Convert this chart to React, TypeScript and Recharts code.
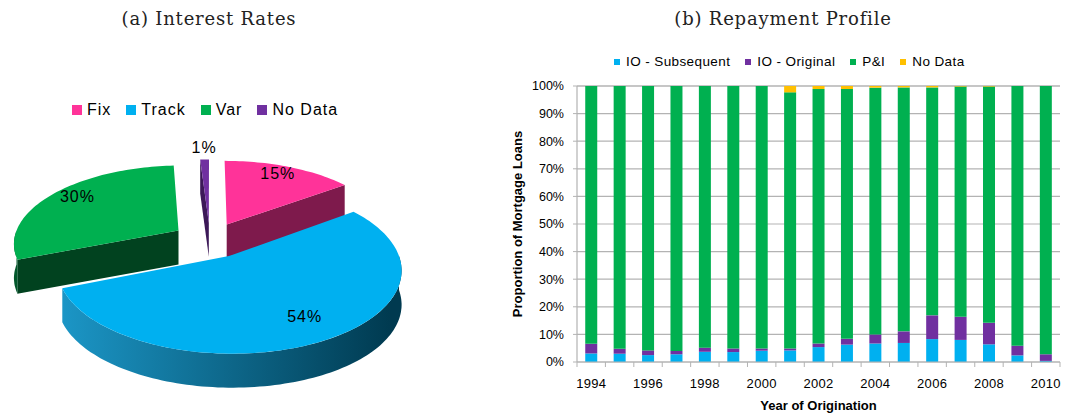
import React from 'react';
import { PieChart, Pie, Cell, Legend, BarChart, Bar, XAxis, YAxis, CartesianGrid } from 'recharts';

// (a) interest rate types, share of loans (%)
const rateNames = ['Fix', 'Track', 'Var', 'No Data'];
const rateShares = [15, 54, 30, 1];

// (b) repayment profile by year of origination (% of loans)
const years = ['1994', '1995', '1996', '1997', '1998', '1999', '2000', '2001', '2002',
  '2003', '2004', '2005', '2006', '2007', '2008', '2009', '2010'];
const ioSubsequent = [3.1, 3.0, 2.5, 2.8, 3.7, 3.6, 4.1, 4.2, 5.4, 6.3, 6.7, 6.9, 8.3, 8.0, 6.4, 2.4, 0.4];
const ioOriginal = [3.5, 1.8, 1.7, 1.2, 1.5, 1.3, 0.8, 0.7, 1.3, 2.1, 3.3, 4.2, 8.6, 8.4, 7.8, 3.5, 2.4];
const principalInterest = [93.4, 95.2, 95.8, 96.0, 94.8, 95.1, 95.1, 92.8, 92.2, 90.5, 89.4, 88.4, 82.6, 83.4, 85.6, 94.1, 97.2];
const noData = [0, 0, 0, 0, 0, 0, 0, 2.3, 1.1, 1.1, 0.6, 0.5, 0.5, 0.2, 0.2, 0, 0];
const seriesNames = ['IO - Subsequent', 'IO - Original', 'P&I', 'No Data'];
const yTicks = [0, 10, 20, 30, 40, 50, 60, 70, 80, 90, 100];

const SANS = '"Liberation Sans", Arial, sans-serif';
const SERIF = '"DejaVu Serif", serif';

const PIE_COLORS = ['#FF3399', '#00B0F0', '#00B050', '#7030A0'];
const PIE_SIDES = ['#7E1A4C', '#005A7D', '#01421F', '#3C1958'];
const WALL_LIGHT = ['#7E1A4C', '#1E9FD2', '#02582B', '#3C1958'];
const WALL_DARK = ['#7E1A4C', '#003A50', '#013A1B', '#3C1958'];

const BAR_COLORS = ['#00B0F0', '#7030A0', '#00B050', '#FFC000'];
const GRID = '#b3b3b3';

// fake 3d look for the pie
const TILT = 0.47;
const PERSP = 0.15;
const EXPLODE = 38;
const DEPTH = 34;

const pieData = rateNames.map((name, i) => ({ name, value: rateShares[i] }));
const barData = years.map((year, i) => ({
  year,
  ioSub: ioSubsequent[i],
  ioOrig: ioOriginal[i],
  pi: principalInterest[i],
  none: noData[i],
}));

const BAR_W = 577;
const BAR_H = 373;
const BAR_MARGIN = { top: 46, right: 7, left: 0, bottom: 0 };
const Y_AXIS_W = 87;
const BAND = (BAR_W - BAR_MARGIN.left - BAR_MARGIN.right - Y_AXIS_W) / years.length;

const toPts = (list: number[][]) => list.map((q) => `${q[0].toFixed(1)},${q[1].toFixed(1)}`).join(' ');

const renderSlice = (p: any) => {
  const { cx, cy, startAngle, endAngle, midAngle, outerRadius, index, percent } = p;
  const r = outerRadius;
  const d2r = Math.PI / 180;
  const ex = EXPLODE * Math.cos(midAngle * d2r);
  const ey = EXPLODE * Math.sin(midAngle * d2r);
  const P = (a: number, rr: number, h = 0) => {
    const u = ex + rr * Math.cos(a * d2r);
    const v = ey + rr * Math.sin(a * d2r);
    const s = 1 / (1 + (PERSP * v) / r);
    return [cx + u * s, cy - v * TILT * s + h];
  };
  const arc = (a0: number, a1: number, h: number) => {
    const n = Math.max(2, Math.ceil(Math.abs(a1 - a0) / 1.5));
    return Array.from({ length: n + 1 }, (_, i) => P(a0 + ((a1 - a0) * i) / n, r, h));
  };

  const apex = P(0, 0);
  const apexLow = P(0, 0, DEPTH);
  const lo = Math.min(startAngle, endAngle);
  const hi = Math.max(startAngle, endAngle);

  const faces: number[][][] = [];
  [[hi, 90], [lo, -90]].forEach(([a, n]) => {
    if (Math.sin((a + n) * d2r) < -0.01) faces.push([apex, P(a, r), P(a, r, DEPTH), apexLow]);
  });

  const walls: number[][][] = [];
  for (let k = -2; k <= 2; k++) {
    const wLo = Math.max(lo, -180 + 360 * k);
    const wHi = Math.min(hi, 360 * k);
    if (wHi > wLo) walls.push([...arc(wHi, wLo, 0), ...arc(wLo, wHi, DEPTH)]);
  }

  const top = [apex, ...arc(startAngle, endAngle, 0)];
  const f = percent < 0.05 ? 1.15 : 0.8;
  const lp = P(midAngle, r * f);
  const gid = `wall-grad-${index}`;

  return (
    <g key={`slice-${index}`}>
      <defs>
        <linearGradient id={gid} gradientUnits="userSpaceOnUse" x1={cx - r * 1.1} y1={0} x2={cx + r * 1.1} y2={0}>
          <stop offset="0%" stopColor={WALL_LIGHT[index]} />
          <stop offset="100%" stopColor={WALL_DARK[index]} />
        </linearGradient>
      </defs>
      {faces.map((poly, i) => (
        <polygon key={`f${i}`} points={toPts(poly)} fill={PIE_SIDES[index]} />
      ))}
      {walls.map((poly, i) => (
        <polygon key={`w${i}`} points={toPts(poly)} fill={`url(#${gid})`} />
      ))}
      <polygon points={toPts(top)} fill={PIE_COLORS[index]} />
      <text
        x={lp[0]}
        y={lp[1] - 4}
        textAnchor="middle"
        dominantBaseline="central"
        fontFamily={SANS}
        fontSize={16}
        letterSpacing={1}
        fill="#000"
      >
        {`${Math.round(percent * 100)}%`}
      </text>
    </g>
  );
};

// legend items kept in the series order (recharts sorts them by name otherwise)
const makeLegend = (names: string[], colors: string[], size: number, gap: number, itemGap: number, fontSize: number, ls: number) =>
  () => (
    <div style={{ display: 'flex', alignItems: 'center', whiteSpace: 'nowrap', fontFamily: SANS, fontSize, letterSpacing: ls, color: '#000' }}>
      {names.map((name, i) => (
        <span key={name} style={{ display: 'inline-flex', alignItems: 'center', marginRight: itemGap }}>
          <span style={{ display: 'inline-block', width: size, height: size, background: colors[i], marginRight: gap }} />
          {name}
        </span>
      ))}
    </div>
  );

const YearTick = (props: any) => {
  const { x, y, payload } = props;
  const i = payload.index;
  const half = BAND / 2;
  return (
    <g>
      <line x1={x - half} x2={x - half} y1={y} y2={y + 5} stroke={GRID} />
      {i === years.length - 1 && <line x1={x + half} x2={x + half} y1={y} y2={y + 5} stroke={GRID} />}
      {i % 2 === 0 && (
        <text x={x} y={y + 21} textAnchor="middle" dominantBaseline="central" fontFamily={SANS} fontSize={13} letterSpacing={0.3} fill="#000">
          {payload.value}
        </text>
      )}
    </g>
  );
};

const titleStyle: React.CSSProperties = {
  position: 'absolute',
  top: 8,
  textAlign: 'center',
  fontFamily: SERIF,
  fontSize: 18,
  letterSpacing: 0.8,
  color: '#222',
  whiteSpace: 'nowrap',
};

export default function App() {
  return (
    <div style={{ position: 'absolute', left: 0, top: 0, width: 1067, height: 413, background: '#fff', overflow: 'hidden' }}>
      <div style={{ ...titleStyle, left: 0, width: 418 }}>(a) Interest Rates</div>
      <div style={{ ...titleStyle, left: 583, width: 400 }}>(b) Repayment Profile</div>

      <div style={{ position: 'absolute', left: 0, top: 0 }}>
        <PieChart width={440} height={413}>
          <Pie
            data={pieData}
            dataKey="value"
            nameKey="name"
            cx={205}
            cy={235}
            outerRadius={165}
            startAngle={90}
            endAngle={-270}
            stroke="none"
            label={renderSlice}
            labelLine={false}
            isAnimationActive={false}
          >
            {pieData.map((_, i) => (
              <Cell key={`cell-${i}`} fill={PIE_COLORS[i]} fillOpacity={0} stroke="none" />
            ))}
          </Pie>
          <Legend
            layout="horizontal"
            verticalAlign="middle"
            align="center"
            wrapperStyle={{ position: 'absolute', left: 72, top: 101, width: 'auto' }}
            content={makeLegend(rateNames, PIE_COLORS, 10, 5, 15, 16, 1)}
          />
        </PieChart>
      </div>

      <div style={{ position: 'absolute', left: 490, top: 40 }}>
        <BarChart width={BAR_W} height={BAR_H} data={barData} margin={BAR_MARGIN} barCategoryGap="29%">
          <CartesianGrid vertical={false} stroke={GRID} strokeWidth={1.2} />
          <XAxis
            dataKey="year"
            interval={0}
            height={51}
            tickSize={0}
            tickMargin={0}
            tickLine={false}
            axisLine={{ stroke: GRID, strokeWidth: 1.2 }}
            tick={<YearTick />}
            label={(lp: any) => {
              const vb = lp.viewBox || {};
              return (
                <text x={vb.x + vb.width / 2} y={vb.y + 43} textAnchor="middle" dominantBaseline="central" fontFamily={SANS} fontSize={13} fontWeight="bold" fill="#000">
                  Year of Origination
                </text>
              );
            }}
          />
          <YAxis
            width={Y_AXIS_W}
            domain={[0, 100]}
            ticks={yTicks}
            tickFormatter={(v: number) => `${v}%`}
            tickSize={4}
            tickMargin={9}
            tick={{ fontFamily: SANS, fontSize: 12.5, fill: '#000' }}
            tickLine={{ stroke: GRID }}
            axisLine={{ stroke: GRID, strokeWidth: 1.2 }}
            label={(lp: any) => {
              const vb = lp.viewBox || {};
              const x = vb.x + 27;
              const y = vb.y + vb.height / 2;
              return (
                <text x={x} y={y} transform={`rotate(-90 ${x} ${y})`} textAnchor="middle" dominantBaseline="central" fontFamily={SANS} fontSize={13} fontWeight="bold" fill="#000">
                  Proportion of Mortgage Loans
                </text>
              );
            }}
          />
          <Legend
            layout="horizontal"
            verticalAlign="middle"
            align="center"
            wrapperStyle={{ position: 'absolute', left: 124, top: 14, width: 'auto' }}
            content={makeLegend(seriesNames, BAR_COLORS, 6, 6, 15, 13.5, 0.4)}
          />
          <Bar dataKey="ioSub" name={seriesNames[0]} stackId="a" fill={BAR_COLORS[0]} isAnimationActive={false} />
          <Bar dataKey="ioOrig" name={seriesNames[1]} stackId="a" fill={BAR_COLORS[1]} isAnimationActive={false} />
          <Bar dataKey="pi" name={seriesNames[2]} stackId="a" fill={BAR_COLORS[2]} isAnimationActive={false} />
          <Bar dataKey="none" name={seriesNames[3]} stackId="a" fill={BAR_COLORS[3]} isAnimationActive={false} />
        </BarChart>
      </div>
    </div>
  );
}
